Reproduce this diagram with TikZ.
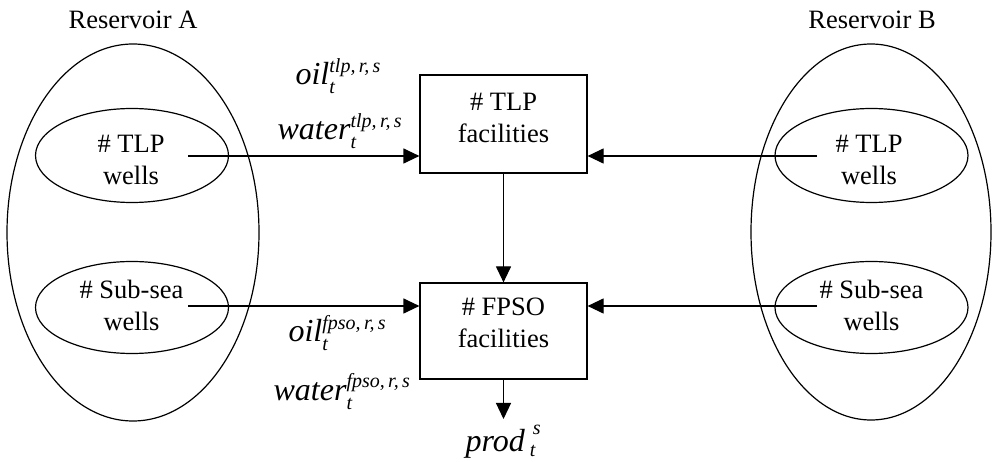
\documentclass[tikz,border=0pt]{standalone}
\usepackage{fontspec}
\setmainfont{Liberation Serif}
\usetikzlibrary{shapes.geometric,arrows.meta}
\newcommand\supsz{\fontsize{20bp}{20bp}\selectfont\itshape}
\newcommand\varlbl[3]{\textit{#1}\rlap{\raisebox{-9bp}{\supsz #3}}\raisebox{12bp}{\supsz #2}}
\begin{document}
\begin{tikzpicture}[x=1bp,y=-1bp, line width=1.2bp,
  bigell/.style={draw, ellipse, inner sep=0pt},
  well/.style={draw, ellipse, inner sep=0pt, minimum width=193bp, minimum height=94bp},
  fac/.style={draw, rectangle, inner sep=0pt, minimum width=167bp},
  txt/.style={align=center, inner sep=0pt, font=\fontsize{26.5bp}{32bp}\selectfont},
  lbl/.style={anchor=base west, inner sep=0pt, font=\fontsize{32bp}{32bp}\selectfont},
  flow/.style={-{Triangle[length=16bp,width=15bp]}}]
\path[use as bounding box] (0,0) rectangle (992,462);
% reservoirs
\node[bigell, minimum width=252bp, minimum height=377bp] (resA) at (133,232.5) {};
\node[bigell, minimum width=240bp, minimum height=376bp] (resB) at (871,232) {};
\node[txt, anchor=base] (resAl) at (133,29) {Reservoir A};
\node[txt, anchor=base] (resBl) at (872,29) {Reservoir B};
% wells
\node[well] (wAT) at (132,155.5) {};
\node[well, minimum height=92bp] (wAS) at (132,307.5) {};
\node[well] (wBT) at (871.5,155.5) {};
\node[well, minimum height=92bp] (wBS) at (871.5,307.5) {};
\node[txt] (wATt) at (131,160) {\# TLP\\wells};
\node[txt] (wASt) at (131.5,305) {\# Sub-sea\\wells};
\node[txt] (wBTt) at (869,160) {\# TLP\\wells};
\node[txt] (wBSt) at (871.5,305) {\# Sub-sea\\wells};
% facilities
\node[fac, minimum height=98bp] (tlp) at (503.5,124) {};
\node[fac, minimum height=96bp] (fpso) at (503.5,331) {};
\node[txt] (tlpt) at (503.5,118) {\# TLP\\facilities};
\node[txt] (fpsot) at (503.5,323) {\# FPSO\\facilities};
% connector ends
\coordinate (sAT) at (188,156);
\coordinate (sAS) at (188,306);
\coordinate (sBT) at (817,156);
\coordinate (sBS) at (817,306);
\coordinate (out) at (503.5,419);
\draw[flow] (sAT) -- (sAT -| tlp.west);
\draw[flow] (sBT) -- (sBT -| tlp.east);
\draw[flow] (sAS) -- (sAS -| fpso.west);
\draw[flow] (sBS) -- (sBS -| fpso.east);
\draw[flow] (tlp) -- (fpso);
\draw[flow] (fpso.south) -- (out);
% labels
\node[lbl] (oilT) at (295,85) {\varlbl{oil}{tlp,\,r,\,s}{t}};
\node[lbl] (watT) at (277,140) {\varlbl{water}{tlp,\,r,\,s}{t}};
\node[lbl] (oilF) at (288,342) {\varlbl{oil}{fpso,\,r,\,s}{t}};
\node[lbl] (watF) at (273,400) {\varlbl{water}{fpso,\,r,\,s}{t}};
\node[lbl] (prod) at (465,451) {\textit{prod}\kern5bp\rlap{\raisebox{-5bp}{\supsz t}}\kern3bp\raisebox{17bp}{\supsz s}};
\end{tikzpicture}
\end{document}
